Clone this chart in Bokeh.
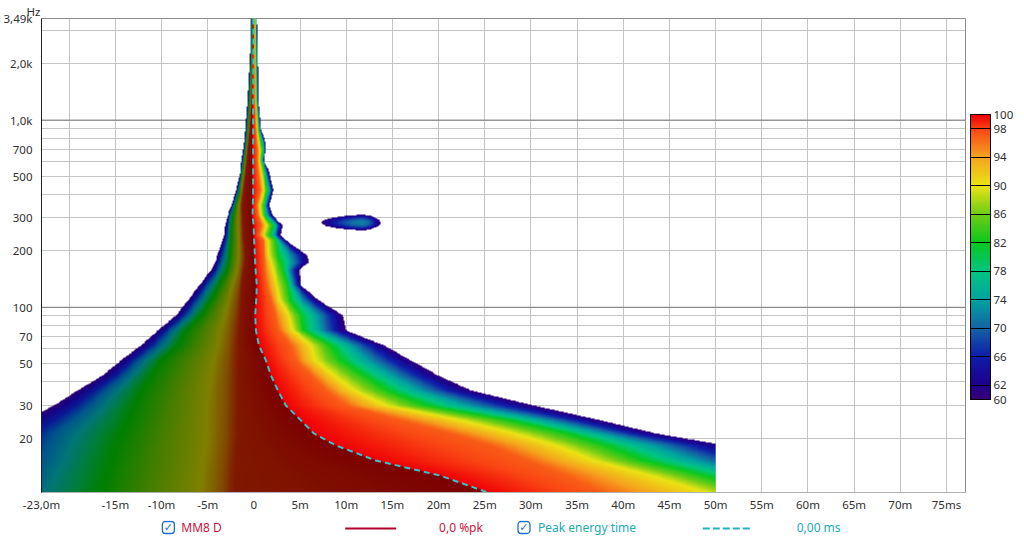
import numpy as np
from bokeh.plotting import figure
from bokeh.layouts import column
from bokeh.models import FixedTicker, Span, ColorBar, LinearColorMapper, Range1d
from bokeh.core.properties import value
from bokeh.embed import file_html
from bokeh.resources import INLINE

# ---------------- data ----------------
# frequency rows (Hz), high to low
freq_hz = [3490, 2367, 1279, 884, 753, 691, 611, 540, 422, 351, 310, 274, 243, 228,
           190, 174, 158, 131, 109, 90.6, 75.3, 62.6, 52.1, 43.3, 36.0, 29.9, 24.9,
           21.2, 18.3, 15.2, 12.6, 10.25]
# times (ms) where the level crosses 60/82/90/97 dB before the peak
pre_60 = [-0.40, -0.43, -0.70, -0.94, -1.06, -1.16, -1.32, -1.48, -1.95, -2.41, -2.85, -3.14, -3.25, -3.39,
          -3.93, -4.22, -4.65, -5.92, -7.14, -8.44, -10.39, -12.23, -14.39, -16.37, -19.08, -21.65, -24.68,
          -27.38, -28.46, -29.55, -31.17, -32.79]
pre_82 = [-0.28, -0.29, -0.49, -0.70, -0.83, -0.92, -1.05, -1.19, -1.57, -2.00, -2.27, -2.38, -2.44, -2.49,
          -2.60, -2.71, -2.92, -3.79, -4.65, -5.74, -7.36, -8.23, -10.06, -11.15, -12.23, -12.99, -13.64,
          -14.39, -14.94, -15.48, -16.02, -16.56]
pre_90 = [-0.22, -0.22, -0.38, -0.60, -0.73, -0.81, -0.92, -1.03, -1.35, -1.68, -1.73, -1.73, -1.70, -1.68,
          -1.68, -1.73, -1.84, -2.27, -2.71, -3.14, -3.57, -3.90, -4.33, -4.65, -4.87, -4.98, -5.09,
          -5.09, -5.19, -5.41, -5.63, -5.74]
pre_97 = [-0.15, -0.14, -0.27, -0.49, -0.61, -0.68, -0.78, -0.87, -1.08, -1.24, -1.19, -1.14, -1.10, -1.08,
          -0.92, -0.97, -1.08, -1.30, -1.41, -1.52, -1.62, -1.73, -1.73, -1.73, -1.73, -1.73, -1.73,
          -1.73, -1.84, -1.95, -2.06, -2.16]
# peak energy time (ms)
peak_ms = [-0.05, -0.05, -0.08, -0.08, -0.08, -0.08, -0.08, -0.08, -0.08, -0.11, -0.14, -0.03, 0.00, 0.03,
           0.11, 0.14, 0.18, 0.32, 0.25, 0.14, 0.22, 0.54, 1.30, 1.84, 2.60, 3.46, 5.09,
           6.49, 8.87, 13.20, 20.24, 25.32]
# times (ms) where the level falls through 97/90/82/60 dB after the peak
post_97 = [0.05, 0.05, 0.11, 0.22, 0.32, 0.40, 0.38, 0.43, 0.65, 0.32, 0.43, 0.76, 0.54, 0.97,
           1.08, 1.14, 1.19, 1.41, 1.84, 2.27, 2.71, 4.00, 4.55, 6.17, 7.79, 9.96, 15.91,
           21.32, 25.65, 29.65, 33.77, 37.55]
post_90 = [0.14, 0.16, 0.22, 0.38, 0.54, 0.65, 0.60, 0.76, 1.08, 0.65, 0.76, 1.41, 1.08, 1.52,
           1.62, 1.84, 2.06, 2.49, 2.81, 3.79, 4.22, 6.17, 6.71, 8.66, 10.82, 14.29, 22.40,
           28.14, 32.68, 36.80, 42.97, 48.92]
post_82 = [0.22, 0.25, 0.32, 0.54, 0.81, 0.94, 0.81, 1.08, 1.48, 1.08, 1.19, 2.06, 1.73, 2.38,
           2.60, 2.92, 3.14, 3.68, 4.00, 5.09, 5.41, 8.33, 9.42, 11.90, 14.50, 18.61, 27.81,
           33.98, 38.10, 42.21, 48.92, 54.87]
post_60 = [0.33, 0.43, 0.49, 0.76, 1.30, 1.35, 1.08, 1.62, 2.09, 1.68, 2.02, 3.11, 2.92, 3.46,
           5.74, 5.95, 4.87, 5.09, 7.03, 9.63, 9.96, 14.07, 16.99, 19.91, 23.48, 30.30, 37.55,
           43.51, 51.08, 56.49, 62.45, 70.02]
contour_db = [60, 82, 90, 97, 100, 97, 90, 82, 60]

# detached resonance near 280 Hz: start / peak / end time (ms), low / centre / high freq (Hz)
blob_ms = [7.3, 11.8, 13.7]
blob_hz = [258, 283, 312]
blob_peak_db = 72

data_end_ms = 50.0
x_start_ms, x_end_ms = -23.0, 77.06
f_low, f_high = 10.25, 3490.0

x_tick_values = [-23, -20, -15, -10, -5, 0, 5, 10, 15, 20, 25, 30, 35, 40, 45, 50, 55, 60, 65, 70, 75]
x_tick_labels = ["-23,0m", "", "-15m", "-10m", "-5m", "0", "5m", "10m", "15m", "20m", "25m", "30m",
                 "35m", "40m", "45m", "50m", "55m", "60m", "65m", "70m", "75ms"]
x_grid_values = [-20, -15, -10, -5, 0, 5, 10, 15, 20, 25, 30, 35, 40, 45, 50, 55, 60, 65, 70, 75]
y_grid_values = [20, 30, 40, 50, 60, 70, 80, 90, 100, 200, 300, 400, 500, 600, 700, 800, 900,
                 1000, 2000, 3000]
y_tick_values = [20, 30, 50, 70, 100, 200, 300, 500, 700, 1000, 2000, 3490]
y_tick_labels = ["20", "30", "50", "70", "100", "200", "300", "500", "700", "1,0k", "2,0k", "3,49k"]
cbar_ticks = [60, 62, 66, 70, 74, 78, 82, 86, 90, 94, 98, 100]

legend_names = ["MM8 D", "Peak energy time"]
legend_values = ["0,0 %pk", "0,00 ms"]

# colour scale after the peak (dB -> rgb)
stop_db = [60, 62, 66, 70, 74, 78, 82, 86, 90, 94, 98, 100]
stop_r = [55, 30, 15, 20, 0, 0, 10, 110, 235, 245, 250, 240]
stop_g = [0, 0, 30, 100, 165, 198, 200, 205, 228, 165, 70, 0]
stop_b = [120, 140, 170, 165, 160, 130, 30, 20, 20, 30, 20, 5]
# dimmed colour scale before the peak
pre_stop_db = [60, 62, 66, 70, 74, 78, 82, 86, 90, 94, 97, 100]
pre_stop_r = [45, 25, 10, 0, 0, 0, 0, 70, 128, 128, 128, 125]
pre_stop_g = [0, 0, 25, 85, 118, 126, 128, 126, 128, 80, 25, 0]
pre_stop_b = [110, 130, 150, 140, 120, 60, 0, 0, 0, 0, 0, 0]

# ---------------- build the level image ----------------
nx, ny = 730, 474
tx = x_start_ms + (np.arange(nx) + 0.5) * (data_end_ms - x_start_ms) / nx
ly = np.log10(f_low) + (np.arange(ny) + 0.5) * (np.log10(f_high) - np.log10(f_low)) / ny

rows_lf = np.log10(np.array(freq_hz[::-1]))
contours = np.array([pre_60, pre_82, pre_90, pre_97, peak_ms, post_97, post_90, post_82, post_60],
                    dtype=float)[:, ::-1]
lv = np.array(contour_db, dtype=float)

level = np.full((ny, nx), np.nan)
pre = np.zeros((ny, nx), dtype=bool)
for j in range(ny):
    c = np.array([np.interp(ly[j], rows_lf, row) for row in contours])
    c = np.maximum.accumulate(c)
    level[j] = np.interp(tx, c, lv, left=np.nan, right=np.nan)
    pre[j] = tx < c[4]

# resonance blob
T, LY = np.meshgrid(tx, ly)
dt = T - blob_ms[1]
wt = np.where(dt < 0, blob_ms[1] - blob_ms[0], blob_ms[2] - blob_ms[1])
dl = LY - np.log10(blob_hz[1])
wl = np.where(dl < 0, np.log10(blob_hz[1]) - np.log10(blob_hz[0]),
              np.log10(blob_hz[2]) - np.log10(blob_hz[1]))
u = np.abs(dt / wt) ** 1.6 + (dl / wl) ** 2
blob_level = np.where(u <= 1, blob_peak_db - (blob_peak_db - 60) * u, np.nan)
blob_mask = ~np.isnan(blob_level) & np.isnan(level)
level = np.fmax(level, blob_level)
pre = pre & ~blob_mask

valid = ~np.isnan(level)
lvl = np.where(valid, level, 60.0)
img = np.zeros((ny, nx), dtype=np.uint32)
view = img.view(dtype=np.uint8).reshape((ny, nx, 4))
for ch, (post_c, pre_c) in enumerate([(stop_r, pre_stop_r), (stop_g, pre_stop_g), (stop_b, pre_stop_b)]):
    chan = np.where(pre, np.interp(lvl, pre_stop_db, pre_c), np.interp(lvl, stop_db, post_c))
    view[:, :, ch] = np.clip(chan, 0, 255).astype(np.uint8)
view[:, :, 3] = np.where(valid, 255, 0).astype(np.uint8)

# palette for colour bar
pal_db = np.linspace(60, 100, 256)
palette = ["#%02x%02x%02x" % (int(np.interp(d, stop_db, stop_r)), int(np.interp(d, stop_db, stop_g)),
                              int(np.interp(d, stop_db, stop_b))) for d in pal_db]

# ---------------- main figure ----------------
FONT = "Noto Sans"
p = figure(width=1024, height=520, x_range=Range1d(x_start_ms, x_end_ms),
           y_range=Range1d(f_low, f_high), y_axis_type="log",
           output_backend="svg", toolbar_location=None,
           min_border_left=40, min_border_right=59, min_border_top=18, min_border_bottom=28)
p.background_fill_color = "white"
p.border_fill_color = "white"
p.outline_line_color = "#8c8c8c"

p.title.text = "Hz"
p.title.align = "left"
p.title.offset = -15
p.title.standoff = 0
p.title.text_font = FONT
p.title.text_font_size = "11.5px"
p.title.text_font_style = "normal"
p.title.text_color = "#303030"

p.xaxis.ticker = FixedTicker(ticks=x_tick_values)
p.xaxis.major_label_overrides = dict(zip(x_tick_values, x_tick_labels))
p.yaxis.ticker = FixedTicker(ticks=y_tick_values)
p.yaxis.major_label_overrides = dict(zip(y_tick_values, y_tick_labels))
for ax in (p.xaxis[0], p.yaxis[0]):
    ax.major_tick_line_color = None
    ax.minor_tick_line_color = None
    ax.major_label_text_font = FONT
    ax.major_label_text_font_size = "11.5px"
    ax.major_label_text_color = "#303030"
p.xaxis.axis_line_color = "#b0b0b0"
p.yaxis.axis_line_color = "#202020"
p.xaxis.major_label_standoff = -2
p.yaxis.major_label_standoff = 3

p.xgrid.ticker = FixedTicker(ticks=x_grid_values)
p.ygrid.ticker = FixedTicker(ticks=y_grid_values)
p.grid.grid_line_color = "#c4c4c4"
p.grid.grid_line_width = 1
for loc in (100, 1000):
    p.add_layout(Span(location=loc, dimension="width", line_color="#7a7a7a", line_width=1, level="underlay"))

p.image_rgba(image=[img], x=x_start_ms, y=f_low, dw=data_end_ms - x_start_ms, dh=f_high - f_low)

p.line(peak_ms, freq_hz, line_color="#35c3cc", line_width=2, line_dash="6 4")

# colour bar
mapper = LinearColorMapper(palette=palette, low=60, high=100)
cb = ColorBar(color_mapper=mapper, width=20, height=285, ticker=FixedTicker(ticks=cbar_ticks),
              major_tick_in=20, major_tick_out=0, major_tick_line_color="black",
              bar_line_color="black",
              major_label_text_font_size="11.5px", major_label_text_font=FONT,
              major_label_text_color="#303030",
              label_standoff=3, padding=0, margin=0, location=(5, 93),
              background_fill_alpha=0, border_line_color=None)
p.add_layout(cb, "right")

# ---------------- legend strip (frame is aligned with the main plot frame) ----------------
leg = figure(width=1024, height=24, x_range=Range1d(40, 965), y_range=Range1d(0, 24),
             output_backend="svg", toolbar_location=None,
             min_border_left=40, min_border_right=59, min_border_top=0, min_border_bottom=0)
leg.axis.visible = False
leg.grid.visible = False
leg.outline_line_color = None
leg.background_fill_color = "white"
leg.border_fill_color = "white"

box_x = [161, 517]
leg.quad(left=box_x, right=[b + 12 for b in box_x], bottom=[11, 11], top=[23, 23],
         fill_color="white", line_color="#1e6fd0", line_width=1.3, border_radius=3)
leg.text(x=[b + 6 for b in box_x], y=[17, 17], text=["\u2713", "\u2713"], text_color="#1e6fd0",
         text_font=value("DejaVu Sans"), text_font_size=value("11px"), text_align="center",
         text_baseline="middle", text_font_style="bold")
leg.text(x=[180], y=[17], text=[legend_names[0]], text_color="#c8143c", text_font=value(FONT),
         text_font_size=value("12px"), text_baseline="middle")
leg.text(x=[438], y=[17], text=[legend_values[0]], text_color="#c8143c", text_font=value(FONT),
         text_font_size=value("12px"), text_baseline="middle")
leg.text(x=[537], y=[17], text=[legend_names[1]], text_color="#22aab4", text_font=value(FONT),
         text_font_size=value("12px"), text_baseline="middle")
leg.text(x=[796], y=[17], text=[legend_values[1]], text_color="#22aab4", text_font=value(FONT),
         text_font_size=value("12px"), text_baseline="middle")
leg.line(x=[344, 395], y=[16, 16], line_color="#b4002d", line_width=2)
leg.line(x=[702, 750], y=[16, 16], line_color="#22b4bc", line_width=2, line_dash="7 3")

layout = column(p, leg, spacing=0)
open("out.html", "w").write(file_html(layout, INLINE))
